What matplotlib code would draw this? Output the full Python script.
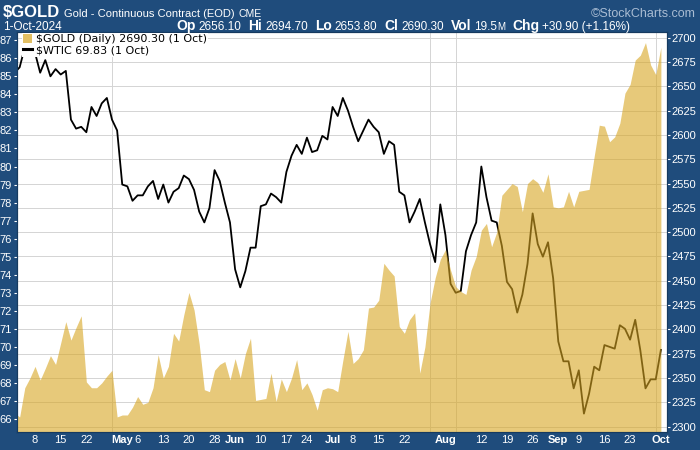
import numpy as np
import pandas as pd
import matplotlib
matplotlib.use('Agg')
import matplotlib.pyplot as plt
from matplotlib.transforms import IdentityTransform
from matplotlib.patches import Patch
from matplotlib.lines import Line2D

# trading days shown on the chart
holidays = ['2024-05-27', '2024-06-19', '2024-07-04', '2024-09-02']
days = pd.bdate_range('2024-04-02', '2024-10-01')
days = days[~days.isin(pd.to_datetime(holidays))]

wtic = [85.2, 85.5, 86.6, 86.9, 86.3, 85.2, 85.9, 85.0, 85.4, 85.1,
        85.3, 82.6, 82.1, 82.2, 81.9, 83.3, 82.8, 83.5, 83.8, 82.6,
        82.0, 79.0, 78.9, 78.1, 78.4, 78.4, 78.9, 79.2, 78.2, 79.0,
        78.0, 78.6, 78.8, 79.5, 79.3, 78.7, 77.5, 76.9, 77.7, 79.8,
        79.2, 78.0, 76.9, 74.3, 73.3, 74.2, 75.5, 75.5, 77.8, 77.9,
        78.5, 78.3, 78.0, 79.7, 80.6, 81.2, 80.7, 81.6, 80.8, 80.9,
        81.7, 81.5, 83.3, 82.8, 83.8, 83.1, 82.2, 81.4, 82.0, 82.6,
        82.2, 81.9, 80.7, 81.4, 81.2, 78.6, 78.4, 76.9, 77.5, 78.2,
        76.9, 75.7, 74.7, 77.9, 76.2, 73.5, 73.0, 73.1, 75.3, 76.2,
        76.9, 80.0, 78.3, 77.0, 76.9, 75.6, 73.6, 73.2, 71.9, 72.9,
        74.6, 77.4, 75.7, 75.0, 75.8, 73.8, 70.3, 69.2, 69.2, 67.7,
        68.7, 66.3, 67.4, 68.9, 68.7, 70.1, 70.0, 69.9, 71.2, 71.0,
        70.4, 71.5, 69.8, 67.7, 68.2, 68.2, 69.83]

gold = [2314, 2310, 2340, 2350, 2362, 2348, 2360, 2373, 2364, 2386,
        2408, 2389, 2402, 2414, 2346, 2340, 2340, 2345, 2352, 2358,
        2310, 2312, 2312, 2320, 2331, 2323, 2325, 2340, 2374, 2350,
        2362, 2396, 2388, 2415, 2438, 2420, 2385, 2338, 2336, 2358,
        2364, 2367, 2348, 2370, 2350, 2375, 2391, 2327, 2328, 2329,
        2355, 2326, 2349, 2336, 2350, 2369, 2338, 2345, 2333, 2317,
        2338, 2340, 2339, 2336, 2368, 2398, 2365, 2370, 2379, 2422,
        2423, 2430, 2468, 2461, 2455, 2403, 2396, 2410, 2417, 2355,
        2382, 2427, 2453, 2472, 2482, 2461, 2444, 2439, 2436, 2461,
        2475, 2502, 2509, 2485, 2500, 2538, 2544, 2550, 2547, 2521,
        2550, 2555, 2551, 2541, 2560, 2526, 2525, 2526, 2542, 2526,
        2542, 2543, 2544, 2578, 2610, 2609, 2593, 2598, 2612, 2643,
        2652, 2677, 2682, 2695, 2672, 2662, 2690.3]

tick_dates = ['2024-04-08', '2024-04-15', '2024-04-22', '2024-05-01', '2024-05-06',
              '2024-05-13', '2024-05-20', '2024-05-28', '2024-06-03', '2024-06-10',
              '2024-06-17', '2024-06-24', '2024-07-01', '2024-07-08', '2024-07-15',
              '2024-07-22', '2024-08-01', '2024-08-12', '2024-08-19', '2024-08-26',
              '2024-09-03', '2024-09-09', '2024-09-16', '2024-09-23', '2024-10-01']
tick_labels = ['8', '15', '22', 'May', '6', '13', '20', '28', 'Jun', '10',
               '17', '24', 'Jul', '8', '15', '22', 'Aug', '12', '19', '26',
               'Sep', '9', '16', '23', 'Oct']
month_labels = ['May', 'Jun', 'Jul', 'Aug', 'Sep', 'Oct']

BG = '#1f4c7c'
GOLD = '#d7a521'

x = np.arange(len(days))
pos = {d: i for i, d in enumerate(days)}

# gridlines: first trading day of each week and each month
wk = days.isocalendar().week.values
grid_x = [i for i in range(1, len(days))
          if wk[i] != wk[i - 1] or days[i].month != days[i - 1].month]

fig = plt.figure(figsize=(7, 4.5), dpi=100, facecolor=BG)
ax = fig.add_axes([0.0239, 0.04, 0.929, 0.889])
ax.set_facecolor('white')
axg = ax.twinx()

wlim = (65.28, 87.46)
glim = (2294.5, 2705.9)
ax.set_ylim(*wlim)
axg.set_ylim(*glim)
ax.set_xlim(0.43, 127.2)

# black WTIC line underneath the gold area
ax.plot(x, wtic, color='black', lw=1.3, zorder=3)
axg.fill_between(x, glim[0] - 10, gold, color=GOLD, alpha=0.6, lw=0, zorder=2)

# grid
gticks = np.arange(2300, 2701, 25)
gconv = wlim[0] + (gticks - glim[0]) * (wlim[1] - wlim[0]) / (glim[1] - glim[0])
ax.set_yticks(gconv, minor=True)
ax.set_xticks(grid_x, minor=True)
ax.grid(which='minor', color='#d4d4d4', lw=0.7)
ax.set_axisbelow(True)

ax.set_yticks(range(66, 88))
ax.set_yticklabels([str(v) for v in range(66, 88)])
axg.set_yticks(gticks)
axg.set_yticklabels([str(v) for v in gticks])

ax.set_xticks([pos[pd.Timestamp(d)] for d in tick_dates])
ax.set_xticklabels(tick_labels)
for t in ax.get_xticklabels():
    if t.get_text() in month_labels:
        t.set_fontweight('bold')
        t.set_fontsize(9)

ax.tick_params(axis='x', which='both', length=0, pad=2, colors='white',
               labelsize=8)
ax.tick_params(axis='y', which='major', length=2.5, width=0.8, pad=1,
               colors='white', labelsize=8)
ax.tick_params(axis='y', which='minor', length=0)
axg.tick_params(axis='y', length=2.5, width=0.8, pad=1, colors='white',
                labelsize=8)
for t in ax.get_xticklabels() + ax.get_yticklabels() + axg.get_yticklabels():
    t.set_fontfamily('Liberation Sans')

for a in (ax, axg):
    for s in a.spines.values():
        s.set_color('#163a60')
        s.set_linewidth(0.8)

handles = [Patch(facecolor=GOLD, alpha=0.7, edgecolor='none'),
           Line2D([], [], color='black', lw=2.2)]
leg = axg.legend(handles, ['$GOLD (Daily) 2690.30 (1 Oct)', '$WTIC 69.83 (1 Oct)'],
                 loc='upper left', bbox_to_anchor=(0.006, 1.0),
                 frameon=True, fancybox=False, framealpha=1,
                 edgecolor='none', facecolor='white',
                 prop={'family': 'DejaVu Sans', 'size': 8},
                 handlelength=0.8, handleheight=0.8, handletextpad=0.4,
                 labelspacing=0.1, borderpad=0.1, borderaxespad=0.1)
leg.set_zorder(10)

# header
r = fig.canvas.get_renderer()


def run(xp, yp, parts):
    for txt, kw, gap in parts:
        t = fig.text(xp, yp, txt, transform=IdentityTransform(),
                     color='white', va='baseline', ha='left', **kw)
        xp += t.get_window_extent(renderer=r).width + gap
    return xp


H = 450
norm = dict(family='Liberation Sans', fontsize=8)
small = dict(family='Liberation Sans', fontsize=8.5)
bold = dict(family='Liberation Sans', fontsize=10, fontweight='bold')

run(3, H - 17, [('$GOLD', dict(family='Liberation Sans', fontsize=12,
                                fontweight='bold'), 4),
                ('Gold - Continuous Contract (EOD)', norm, 4),
                ('CME', dict(family='Liberation Sans', fontsize=7.5), 0)])
fig.text(696, H - 17, '\u00a9StockCharts.com', transform=IdentityTransform(),
         color='#a9bcd3', ha='right', va='baseline', family='Liberation Sans',
         fontsize=9)
run(3, H - 30, [('1-Oct-2024', small, 0)])
run(176, H - 30, [('Op', bold, 3), ('2656.10', small, 7),
                  ('Hi', bold, 3), ('2694.70', small, 7),
                  ('Lo', bold, 3), ('2653.80', small, 7),
                  ('Cl', bold, 3), ('2690.30', small, 7),
                  ('Vol', bold, 3), ('19.5', small, 0),
                  ('M', dict(family='Liberation Sans', fontsize=7), 7),
                  ('Chg', bold, 3), ('+30.90 (+1.16%)', small, 0)])

fig.savefig('out.png', dpi=100, facecolor=fig.get_facecolor())
